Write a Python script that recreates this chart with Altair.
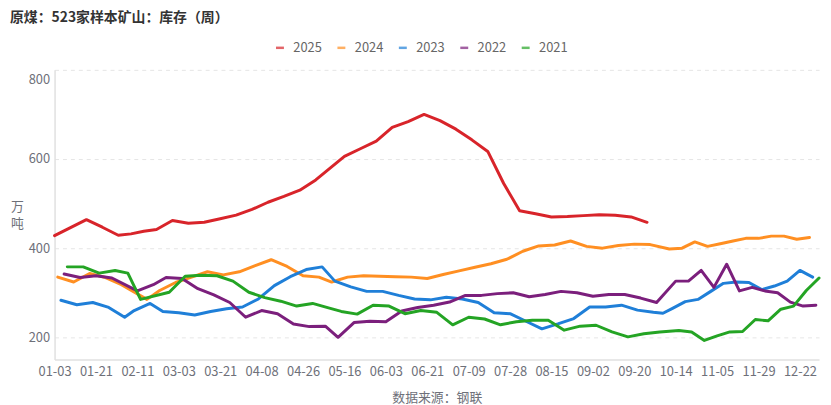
import altair as alt
import pandas as pd

TITLE = "原煤：523家样本矿山：库存（周）"
SOURCE = "数据来源：钢联"
UNIT = ["万", "吨"]
FONT = "Noto Sans CJK SC"

YEARS = ["2025", "2024", "2023", "2022", "2021"]
COLORS = ["#d8242a", "#ff8f22", "#1f7fd8", "#7b1f7c", "#24a424"]

# first weekly report date of each year, number of weeks in the calendar, and weeks without a report
FIRST_REPORT = {"2025": "2025-01-03", "2024": "2024-01-05", "2023": "2023-01-06",
                "2022": "2022-01-07", "2021": "2021-01-08"}
WEEKS = {"2025": 39, "2024": 52, "2023": 52, "2022": 52, "2021": 52}
NOT_REPORTED = ["2022-02-04", "2024-02-09", "2021-02-19", "2025-05-09", "2024-10-04", "2022-10-07"]

V2025 = [428, 446, 464, 447, 429, 432, 438, 442, 462, 456,
         458, 466, 474, 487, 503, 516, 530, 553,
         606, 623, 640, 671, 684, 700, 686, 667, 643, 617,
         545, 484, 477, 470, 471, 473, 475, 474, 470, 458]
V2024 = [335, 324, 343, 334, 318,
         285, 305, 323, 335, 347, 340, 347, 361, 374, 359, 338,
         335, 324, 335, 338, 337, 336, 335, 332, 341, 349, 357, 365, 375, 393, 405, 407, 416, 404, 400, 406, 409, 408,
         398, 400, 414, 404, 410, 416, 422, 422, 427, 427, 420, 424]
V2023 = [283, 273, 278, 267, 245, 260, 276, 258, 255, 250, 258, 264, 268,
         286, 316, 336, 352, 358, 326, 313, 303, 303, 294, 286, 284, 290,
         286, 278, 255, 253, 236, 219, 230, 242, 268, 268, 272, 261, 256,
         254, 265, 280, 285, 303, 321, 324, 323, 307, 315, 326, 350, 335]
V2022 = [342, 334, 338, 333,
         304, 318, 334, 332, 309, 295, 278, 245, 260, 253, 230, 224, 225, 200,
         233, 236, 235, 259, 267, 272, 279, 294, 294, 298, 300, 291, 296, 303, 300, 292, 296, 296, 288, 278,
         326, 326, 350, 312, 364, 304, 312, 304, 300, 279, 270, 272]
V2021 = [358, 358, 344, 350, 344, 285,
         301, 337, 339, 338, 326, 301, 289, 281, 270, 276, 266, 258, 252,
         272, 270, 253, 260, 256, 228, 245, 241, 228, 235, 238, 238, 216, 225, 227, 212, 201, 208, 212,
         213, 215, 212, 193, 203, 212, 213, 240, 237, 263, 270, 305, 333]
VALUES = {"2025": V2025, "2024": V2024, "2023": V2023, "2022": V2022, "2021": V2021}

X_TICKS = ["01-03", "01-21", "02-11", "03-03", "03-21", "04-08", "04-26", "05-16", "06-03", "06-21",
           "07-09", "07-28", "08-15", "09-02", "09-20", "10-14", "11-05", "11-29", "12-22"]
Y_TICKS = [200, 400, 600, 800]

rows = []
for year in YEARS:
    dates = [d for d in pd.date_range(FIRST_REPORT[year], periods=WEEKS[year], freq="7D")
             if d.strftime("%Y-%m-%d") not in NOT_REPORTED]
    vals = VALUES[year]
    n = min(len(dates), len(vals))
    for d, v in zip(dates[:n], vals[:n]):
        rows.append({"date": d.strftime("%m-%d"), "year": year, "value": v})
df = pd.DataFrame(rows)
domain = sorted(df["date"].unique().tolist())

GRAY = "#6e7079"

chart = alt.Chart(df).mark_line(strokeWidth=3, strokeJoin="round", strokeCap="round").encode(
    x=alt.X("date:N",
            scale=alt.Scale(type="point", domain=domain, padding=0),
            axis=alt.Axis(values=X_TICKS, title=SOURCE, labelAngle=0, ticks=False, grid=False,
                          domainColor="#e0e0e0", domainWidth=1.5,
                          labelColor=GRAY, labelFontSize=13, labelFont=FONT, labelPadding=6,
                          labelOverlap=False, labelFlush=False,
                          titleFont=FONT, titleFontSize=13, titleFontWeight="normal",
                          titleColor=GRAY, titlePadding=13)),
    y=alt.Y("value:Q",
            scale=alt.Scale(domain=[150, 800], nice=False, zero=False),
            axis=alt.Axis(values=Y_TICKS, title=UNIT, titleAngle=0, titleX=-38, titleY=138,
                          titleAlign="center", titleBaseline="middle", titleLineHeight=17,
                          titleFont=FONT, titleFontSize=13, titleFontWeight="normal", titleColor=GRAY,
                          ticks=False, domainColor="#e0e0e0", domainWidth=1.5,
                          labelColor=GRAY, labelFontSize=13, labelFont=FONT, labelPadding=5,
                          labelBaseline="middle",
                          labelOffset={"condition": {"test": "datum.value == 800", "value": 10},
                                       "value": 0},
                          grid=True, gridColor="#e6e6e6", gridDash=[4, 4], gridWidth=1)),
    color=alt.Color("year:N", scale=alt.Scale(domain=YEARS, range=COLORS),
                    legend=alt.Legend(title=None, orient="none", legendX=221, legendY=-29,
                                      direction="horizontal", columns=5, symbolType="stroke",
                                      symbolSize=64, symbolStrokeWidth=2.5, symbolOpacity=0.7,
                                      labelFont=FONT, labelFontSize=13, labelColor="#666666",
                                      labelOffset=7, columnPadding=10, padding=0)),
).properties(
    width=771.6, height=292.4,
    title=alt.TitleParams(TITLE, anchor="start", frame="group", font=FONT, fontSize=14,
                          fontWeight="bold", color="#333333", dx=-45, dy=-12),
    autosize=alt.AutoSizeParams(type="none"),
    padding={"left": 47, "top": 60.6, "right": 4, "bottom": 44},
).configure_view(stroke=None)

chart.save("out.html", embed_options={"renderer": "svg", "actions": False})
